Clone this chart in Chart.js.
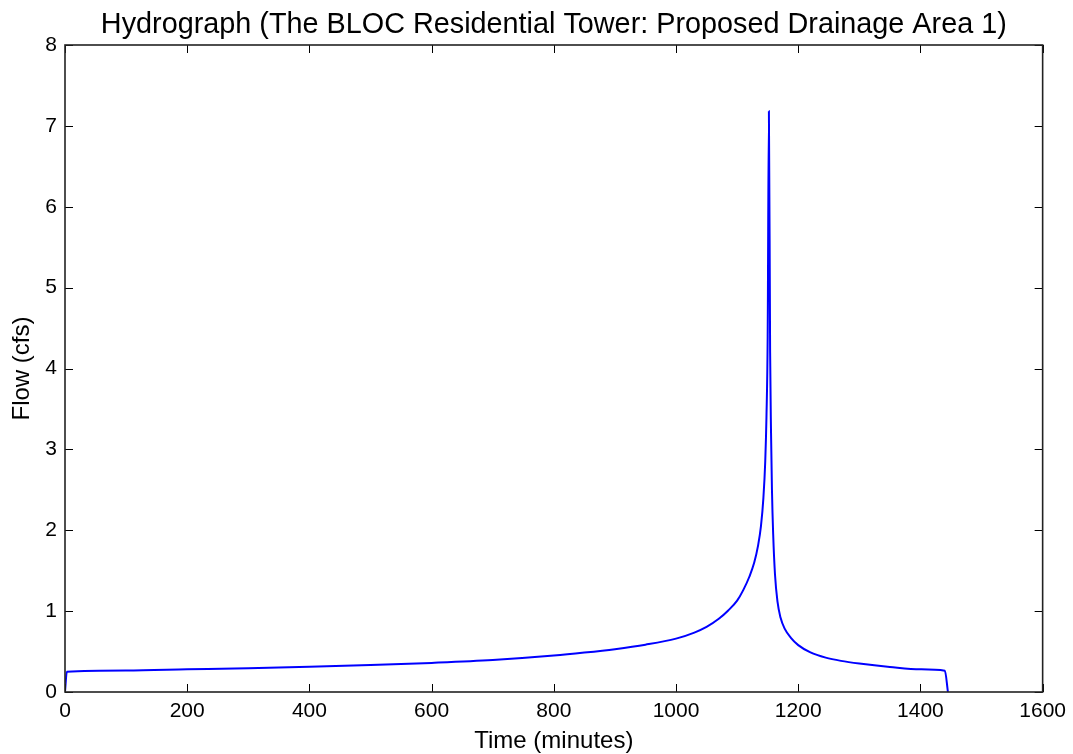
<!DOCTYPE html>
<html>
<head>
<meta charset="utf-8">
<script src="https://cdn.jsdelivr.net/npm/chart.js@4"></script>
<style>
  html, body { margin: 0; padding: 0; background: #fff; }
  #wrap { width: 1073px; height: 754px; }
</style>
</head>
<body>
<div id="wrap"><canvas id="c" width="1073" height="754"></canvas></div>
<script>
const titleText = 'Hydrograph (The BLOC Residential Tower: Proposed Drainage Area 1)';
const xLabel = 'Time (minutes)';
const yLabel = 'Flow (cfs)';
const xTicks = [0, 200, 400, 600, 800, 1000, 1200, 1400, 1600];
const yTicks = [0, 1, 2, 3, 4, 5, 6, 7, 8];
const timeMin = [0, 3, 100, 200, 300, 400, 500, 600, 700, 800, 850, 900, 950, 1000, 1030, 1050, 1070, 1085, 1100, 1110, 1120, 1128, 1134, 1139, 1143, 1146, 1148, 1150, 1152, 1154, 1155.5, 1157, 1159, 1162, 1166, 1171, 1178, 1188, 1200, 1220, 1245, 1270, 1300, 1350, 1400, 1440, 1445];
const flowCfs = [0, 0.25, 0.265, 0.28, 0.295, 0.312, 0.333, 0.36, 0.395, 0.45, 0.487, 0.53, 0.585, 0.66, 0.735, 0.805, 0.905, 1.005, 1.13, 1.26, 1.425, 1.60, 1.80, 2.05, 2.40, 2.85, 3.40, 4.4, 7.18, 4.2, 3.2, 2.5, 1.95, 1.45, 1.12, 0.92, 0.78, 0.67, 0.58, 0.49, 0.425, 0.385, 0.352, 0.31, 0.28, 0.262, 0];

const FONT = "'Liberation Sans', Arial, sans-serif";

const framePlugin = {
  id: 'frame',
  afterDraw(chart) {
    const {ctx, chartArea: a, scales: {x, y}} = chart;
    ctx.save();
    ctx.strokeStyle = '#000';
    ctx.lineWidth = 1;
    const L = 8;
    ctx.beginPath();
    xTicks.forEach(v => {
      const px = Math.round(x.getPixelForValue(v)) + 0.5;
      ctx.moveTo(px, a.bottom); ctx.lineTo(px, a.bottom - L);
      ctx.moveTo(px, a.top); ctx.lineTo(px, a.top + L);
    });
    yTicks.forEach(v => {
      const py = Math.round(y.getPixelForValue(v)) + 0.5;
      ctx.moveTo(a.left, py); ctx.lineTo(a.left + L, py);
      ctx.moveTo(a.right, py); ctx.lineTo(a.right - L, py);
    });
    ctx.stroke();
    ctx.lineWidth = 1.6;
    ctx.strokeStyle = '#222';
    ctx.strokeRect(a.left, a.top, a.right - a.left, a.bottom - a.top);
    ctx.fillStyle = '#000';
    ctx.font = '28.8px ' + FONT;
    ctx.textAlign = 'center';
    ctx.textBaseline = 'middle';
    ctx.fillText(titleText, (a.left + a.right) / 2, 25);
    ctx.restore();
  }
};

new Chart(document.getElementById('c'), {
  type: 'line',
  data: {
    datasets: [{
      data: timeMin.map((t, i) => ({x: t, y: flowCfs[i]})),
      borderColor: '#0000ff',
      borderWidth: 2,
      pointRadius: 0,
      fill: false,
      cubicInterpolationMode: 'monotone'
    }]
  },
  options: {
    responsive: false,
    animation: false,
    devicePixelRatio: 1,
    layout: { padding: { top: 45, right: 28, left: 0, bottom: 0 } },
    plugins: { legend: { display: false }, tooltip: { enabled: false }, title: { display: false } },
    scales: {
      x: {
        type: 'linear', min: 0, max: 1600,
        afterBuildTicks(s) { s.ticks = xTicks.map(v => ({value: v})); },
        afterFit(s) { s.height = 62; },
        grid: { display: false, drawTicks: false },
        border: { display: false },
        ticks: { color: '#000', font: { family: FONT, size: 21 }, padding: 7, maxRotation: 0, autoSkip: false,
                 callback: v => String(v) },
        title: { display: true, text: xLabel, color: '#000', font: { family: FONT, size: 24 }, padding: { top: 0, bottom: -2 } }
      },
      y: {
        type: 'linear', min: 0, max: 8,
        afterBuildTicks(s) { s.ticks = yTicks.map(v => ({value: v})); },
        afterFit(s) { s.width = 65; },
        grid: { display: false, drawTicks: false },
        border: { display: false },
        ticks: { color: '#000', font: { family: FONT, size: 21 }, padding: 8, autoSkip: false,
                 callback: v => String(v) },
        title: { display: true, text: yLabel, color: '#000', font: { family: FONT, size: 24 }, padding: { top: 8, bottom: 0 } }
      }
    }
  },
  plugins: [framePlugin]
});
</script>
</body>
</html>
